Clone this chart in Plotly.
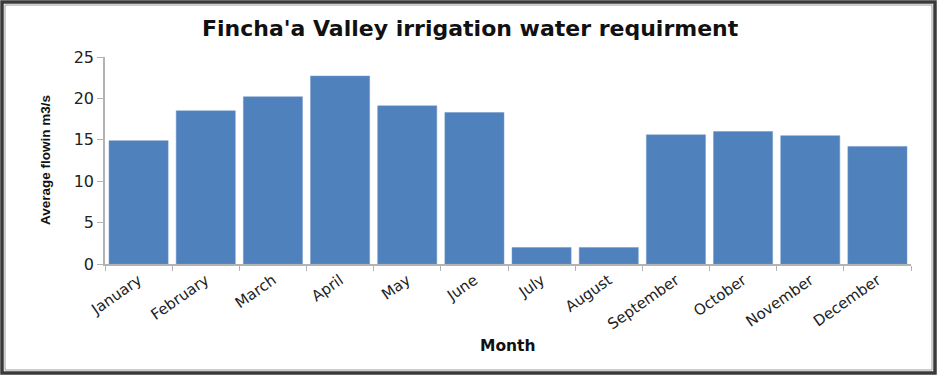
import plotly.graph_objects as go

months = ["January", "February", "March", "April", "May", "June", "July",
          "August", "September", "October", "November", "December"]
flow = [14.9, 18.5, 20.2, 22.7, 19.1, 18.3, 2.0, 2.0, 15.6, 16.0, 15.5, 14.2]
y_ticks = [0, 5, 10, 15, 20, 25]

W, H = 938, 376
L, R, T, B = 105, 27, 57, 112
pw, ph = W - L - R, H - T - B

def px_x(p):
    return (p - L) / pw

def px_y(p):
    return (H - B - p) / ph

fig = go.Figure(go.Bar(
    x=months, y=flow,
    marker=dict(color="#4F81BD", line=dict(color="#6f97c9", width=0.5)),
    width=0.88,
))

fig.update_layout(
    width=W, height=H,
    margin=dict(l=L, r=R, t=T, b=B, autoexpand=False),
    paper_bgcolor="white", plot_bgcolor="white",
    showlegend=False,
    font=dict(family="DejaVu Sans", color="#222222"),
)

fig.update_xaxes(
    showline=True, linecolor="#b3b3b3", linewidth=1.5,
    ticks="outside", tickson="boundaries", ticklen=5, tickcolor="#b3b3b3",
    tickangle=-35, tickfont=dict(size=15, family="DejaVu Sans", color="#222"),
    showgrid=False,
)
fig.update_yaxes(
    range=[0, 25], tickvals=y_ticks, ticktext=[str(v) for v in y_ticks],
    showline=True, linecolor="#b3b3b3", linewidth=1.5,
    ticks="outside", ticklen=6, tickcolor="#b3b3b3",
    tickfont=dict(size=16, family="DejaVu Sans", color="#222"),
    showgrid=False, zeroline=False,
)

annotations = [
    dict(text="<b>Fincha'a Valley irrigation water requirment</b>",
         x=px_x(470), y=px_y(28), xref="paper", yref="paper",
         showarrow=False, xanchor="center", yanchor="middle",
         font=dict(size=22, family="DejaVu Sans", color="#111")),
    dict(text="<b>Month</b>",
         x=px_x(508), y=px_y(346), xref="paper", yref="paper",
         showarrow=False, xanchor="center", yanchor="middle",
         font=dict(size=15.5, family="DejaVu Sans", color="#111")),
    dict(text="<b>Average flowin m3/s</b>",
         x=px_x(45), y=px_y(160), xref="paper", yref="paper",
         showarrow=False, xanchor="center", yanchor="middle", textangle=-90,
         font=dict(size=13.5, family="Liberation Sans", color="#111")),
]
fig.update_layout(annotations=annotations)

fig.update_layout(shapes=[
    dict(type="rect", xref="paper", yref="paper",
         x0=px_x(2), x1=px_x(935), y0=px_y(2), y1=px_y(373),
         line=dict(color="#3a3a3a", width=3.5), layer="above"),
    dict(type="rect", xref="paper", yref="paper",
         x0=px_x(5), x1=px_x(932), y0=px_y(5), y1=px_y(370),
         line=dict(color="#9a9a9a", width=1), layer="above"),
])

fig.write_html("out.html",
               config={"displayModeBar": False},
               post_script="document.body.style.margin='0';document.body.style.overflow='hidden';")
